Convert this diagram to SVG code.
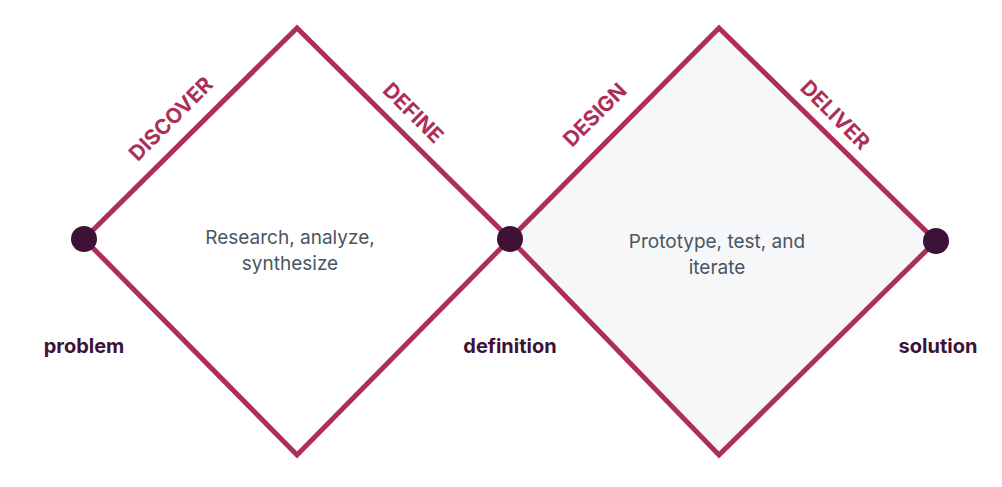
<svg xmlns="http://www.w3.org/2000/svg" width="1002" height="487" viewBox="0 0 1002 487">
<style>
.d{fill:none;stroke:#ad2f58;stroke-width:5;stroke-linejoin:miter}
.ph{font-family:Inter,"Liberation Sans",sans-serif;font-weight:700;font-size:21px;fill:#ad2f58;text-anchor:middle}
.in{font-family:Inter,"Liberation Sans",sans-serif;font-size:19px;fill:#4a5560;text-anchor:middle}
.lb{font-family:Inter,"Liberation Sans",sans-serif;font-weight:700;font-size:20px;fill:#3d1236;text-anchor:middle}
.dot{fill:#3d1236}
</style>
<rect width="1002" height="487" fill="#fff"/>
<g id="connectors">
<polygon class="d" points="84,239 297,28 510,239 297,455"/>
<polygon class="d" points="510,239 719,28 936,241 719,455" style="fill:#f6f7f9"/>
</g>
<g id="discover"><text class="ph" transform="translate(176,124) rotate(-45)">DISCOVER</text></g>
<g id="define"><text class="ph" transform="translate(408,118) rotate(45)">DEFINE</text></g>
<g id="design"><text class="ph" transform="translate(600,120) rotate(-45)">DESIGN</text></g>
<g id="deliver"><text class="ph" transform="translate(830,120) rotate(45)">DELIVER</text></g>
<g id="research"><text class="in" x="290" y="244">Research, analyze,</text><text class="in" x="290" y="270">synthesize</text></g>
<g id="prototype"><text class="in" x="717" y="248">Prototype, test, and</text><text class="in" x="717" y="274">iterate</text></g>
<g id="problem"><circle class="dot" cx="84" cy="239" r="13"/><text class="lb" x="84" y="353">problem</text></g>
<g id="definition"><circle class="dot" cx="510" cy="239" r="13"/><text class="lb" x="510" y="353">definition</text></g>
<g id="solution"><circle class="dot" cx="936" cy="241" r="13"/><text class="lb" x="938" y="353">solution</text></g>
</svg>
